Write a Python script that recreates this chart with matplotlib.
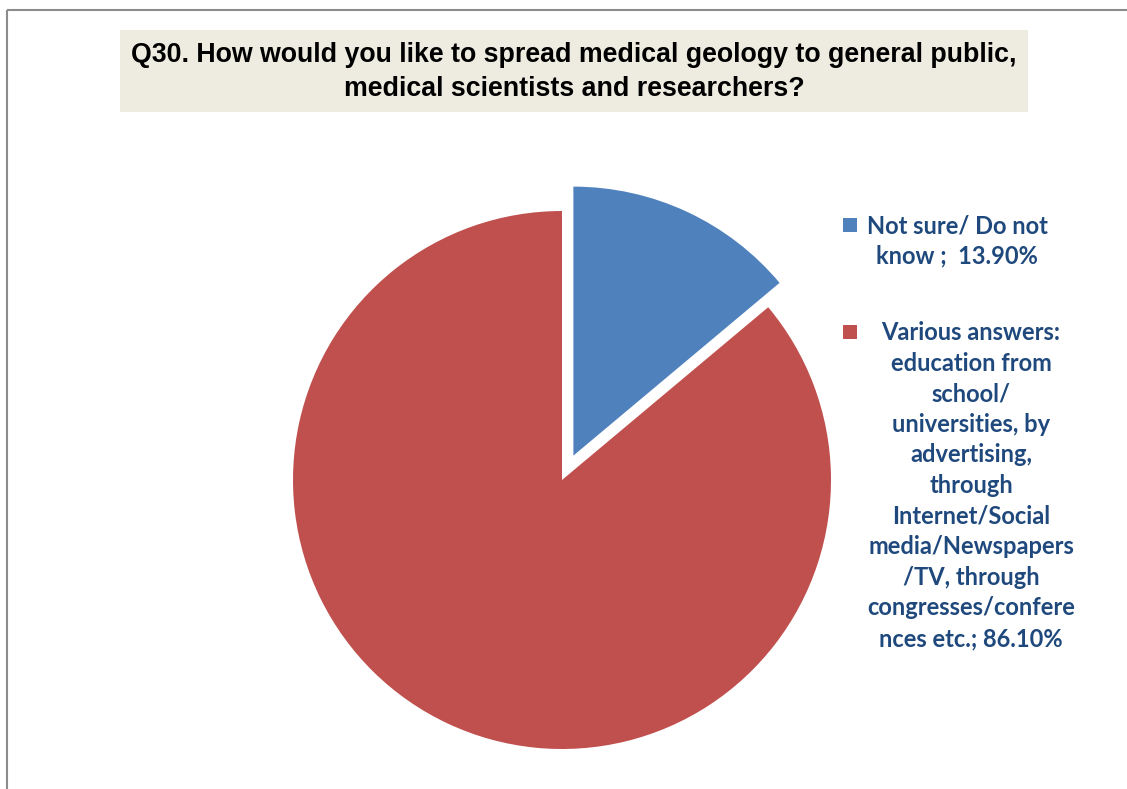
import matplotlib.pyplot as plt
from matplotlib.patches import Rectangle

# data
categories = ["Not sure/ Do not know", "Various answers"]
shares = [13.90, 86.10]
colors = ["#4F81BD", "#C0504D"]
legend_texts = [
    "Not sure/ Do not\nknow ;  13.90%",
    "Various answers:\neducation from\nschool/\nuniversities, by\nadvertising,\nthrough\n"
    "Internet/Social\nmedia/Newspapers\n/TV, through\ncongresses/confere\nnces etc.; 86.10%",
]
title = ("Q30. How would you like to spread medical geology to general public,\n"
         "medical scientists and researchers?")

W, H = 1127, 789
fig = plt.figure(figsize=(W / 100, H / 100), dpi=100)
ax = fig.add_axes([0, 0, 1, 1])
ax.set_xlim(0, W)
ax.set_ylim(H, 0)
ax.axis("off")

# outer frame (right/bottom edges run off the picture)
ax.add_patch(Rectangle((7, 10), W + 20, H + 20, fill=False, edgecolor="#8C8C8C", lw=1.5))

# title box
ax.add_patch(Rectangle((120, 30), 908, 82, facecolor="#EEECE1", edgecolor="none"))
ax.text(574, 72, title, ha="center", va="center", fontsize=19.3, fontweight="bold",
        family=["Liberation Sans", "DejaVu Sans"], color="black", linespacing=1.4)

# pie in its own axes so angles run the normal way
radius = 269
pax = fig.add_axes([0, 0, 1, 1])
pax.pie(shares, colors=colors, startangle=90, counterclock=False,
        explode=[0.1 * radius, 0], radius=radius, center=(562, H - 480),
        wedgeprops={"linewidth": 0})
pax.set_xlim(0, W)
pax.set_ylim(0, H)
pax.set_aspect("auto")
pax.axis("off")

# legend
text_color = "#1F497D"
marker_y = [225, 332]
text_x = [957, 971]
for c, my, tx, txt in zip(colors, marker_y, text_x, legend_texts):
    ax.add_patch(Rectangle((843, my - 7), 14, 14, facecolor=c, edgecolor="none"))
    ax.text(tx, my - 11, txt, ha="center", va="top", fontsize=17, fontweight="bold",
            family=["Lato", "DejaVu Sans"], color=text_color, linespacing=1.4)

fig.savefig("out.png", dpi=100)
